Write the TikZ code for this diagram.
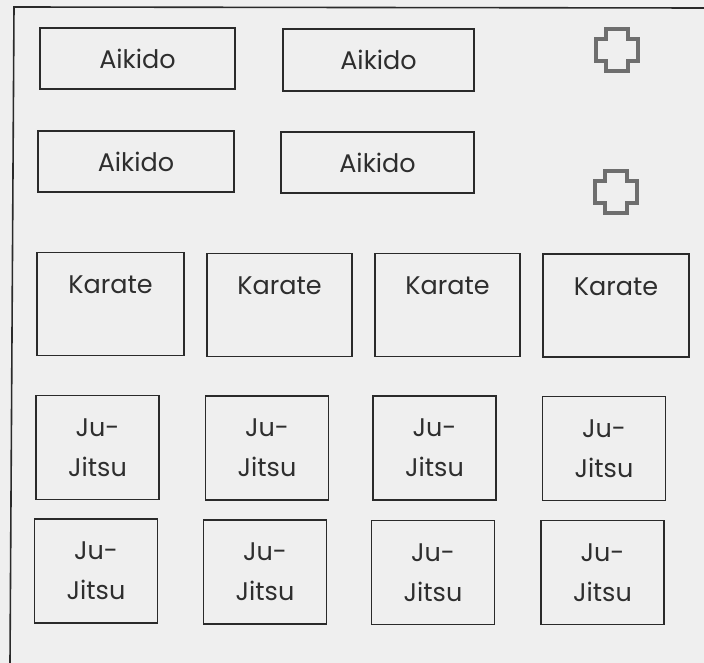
\documentclass[tikz,border=0pt]{standalone}
\usepackage{fontspec}
\setmainfont{Poppins}
\definecolor{bgcol}{HTML}{EFEFEF}
\definecolor{inkcol}{HTML}{2A2A2A}
\definecolor{txtcol}{HTML}{2E2E2E}
\definecolor{crosscol}{HTML}{6E6E6E}
\tikzset{
  boxnode/.style={draw=inkcol, line width=1.6pt, rectangle, inner sep=0pt,
    text=txtcol, font=\fontsize{25.5}{40}\selectfont},
  crossmark/.style={draw=crosscol, line width=4pt, line join=miter},
}
\begin{document}
\begin{tikzpicture}[x=1pt,y=-1pt]
\useasboundingbox (0,0) rectangle (704,663);
\fill[bgcol] (0,0) rectangle (704,663);
\coordinate (fa) at (10,663);
\coordinate (fb) at (14,7);
\coordinate (fc) at (704,8);
\draw[inkcol, line width=1.6pt] (fa) -- (fb) -- (fc);
% Aikido
\node[boxnode, minimum width=195pt, minimum height=61pt] (a1) at (137.5,58.5) {Aikido};
\node[boxnode, minimum width=191pt, minimum height=62pt] (a2) at (378.5,60) {Aikido};
\node[boxnode, minimum width=196pt, minimum height=61pt] (a3) at (136,161.5) {Aikido};
\node[boxnode, minimum width=193pt, minimum height=61pt] (a4) at (377.5,162.5) {Aikido};
% crosses
\foreach \n/\cx/\cy in {c1/617/50, c2/615.5/192.5}{
  \draw[crossmark] (\cx,\cy) ++(-11,-21) -- ++(22,0) -- ++(0,10) -- ++(10,0) -- ++(0,22)
    -- ++(-10,0) -- ++(0,10) -- ++(-22,0) -- ++(0,-10) -- ++(-10,0) -- ++(0,-22) -- ++(10,0) -- cycle;
}
% Karate
\foreach \n/\cx/\cy/\w in {k1/110.5/304/147, k2/279.5/305/145, k3/447.5/305/145, k4/616/305.5/146}{
  \node[boxnode, minimum width=\w pt, minimum height=103pt,
    label={[anchor=base, yshift=-42pt, text=txtcol, font=\fontsize{25.5}{30}\selectfont]north:Karate}] (\n) at (\cx,\cy) {};
}
% Ju-Jitsu
\foreach \n/\cx/\cy in {j1/97.5/447.5, j2/267/448, j3/434.5/448, j4/604/448.5,
                        j5/96/571, j6/265/572, j7/433/572.5, j8/602.5/572.5}{
  \node[boxnode, minimum width=123pt, minimum height=104pt, align=center] (\n) at (\cx,\cy) {Ju-\\Jitsu};
}
\end{tikzpicture}
\end{document}
